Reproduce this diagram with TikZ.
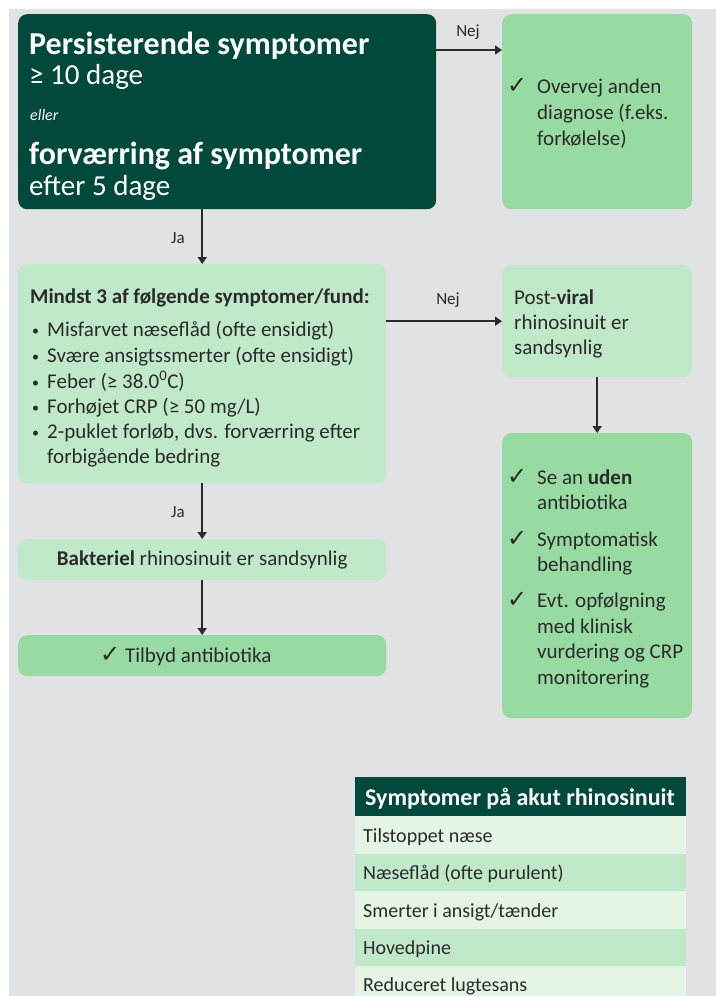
\documentclass[tikz,border=0pt]{standalone}
\usepackage{fontspec}
\setmainfont{Carlito}
\newfontfamily\symf{DejaVu Sans}
\usetikzlibrary{arrows.meta,calc}
\definecolor{bg}{HTML}{E1E2E4}
\definecolor{dk}{HTML}{01493B}
\definecolor{md}{HTML}{98DBA2}
\definecolor{lt}{HTML}{BFE9C8}
\definecolor{vl}{HTML}{E4F5E5}
\definecolor{ink}{HTML}{2B2B2B}
\newcommand{\ck}{{\symf\fontsize{24}{24}\selectfont ✓}}
\begin{document}
\begin{tikzpicture}[x=1pt,y=-1pt,
  box/.style={rounded corners=9pt, inner sep=0pt, anchor=north west, draw=none},
  cell/.style={inner sep=0pt, anchor=north west, draw=none, minimum width=331pt},
  txt/.style={anchor=base west, inner sep=0pt, text=ink},
  wtxt/.style={anchor=base west, inner sep=0pt, text=white},
  arr/.style={draw=ink, line width=1.7pt, -{Triangle[width=9pt,length=7pt]}},
  lab/.style={font=\fontsize{17}{19}\selectfont, text=ink, inner sep=0pt},
  big/.style={font=\fontsize{32}{36}\selectfont\bfseries},
  sub/.style={font=\fontsize{29}{32}\selectfont},
  body/.style={font=\fontsize{21}{25}\selectfont},
  bodyb/.style={font=\fontsize{21}{25}\selectfont\bfseries},
  tab/.style={font=\fontsize{20}{22}\selectfont}]
\useasboundingbox (0,0) rectangle (716,996);
\fill[white] (0,0) rectangle (716,996);
\fill[bg] (9,9) rectangle (716,996);

% boxes
\node[box, fill=dk, minimum width=418pt, minimum height=195pt] (q1) at (18,14) {};
\node[box, fill=md, minimum width=190pt, minimum height=195pt] (r1) at (502,14) {};
\node[box, fill=lt, minimum width=368pt, minimum height=219pt] (m1) at (18,264) {};
\node[box, fill=lt, minimum width=190pt, minimum height=112pt] (r2) at (502,265) {};
\node[box, fill=md, minimum width=190pt, minimum height=285pt] (r3) at (502,433) {};
\node[box, fill=lt, minimum width=368pt, minimum height=41pt] (m2) at (18,539) {};
\node[box, fill=md, minimum width=368pt, minimum height=41pt] (m3) at (18,635) {};

% dark box text
\node[wtxt, big] (q1a) at (29,54) {Persisterende symptomer};
\node[wtxt, sub] (q1b) at (29,84) {≥ 10 dage};
\node[wtxt, font=\fontsize{16}{18}\selectfont\itshape] (q1c) at (30,120) {eller};
\node[wtxt, big] (q1d) at (29,164) {forværring af symptomer};
\node[wtxt, sub] (q1e) at (29,195) {efter 5 dage};

% r1 text
\node[txt] (r1c) at (507,93) {\ck};
\node[txt, body] (r1a) at (537,93) {Overvej anden};
\node[txt, body] (r1b) at (537,119) {diagnose (f.eks.};
\node[txt, body] (r1d) at (537,145) {forkølelse)};

% m1 text
\node[txt, bodyb] (m1h) at (30,303) {Mindst 3 af følgende symptomer/fund:};
\foreach \yy/\tt [count=\i] in {336/{Misfarvet næseflåd (ofte ensidigt)},
  362/{Svære ansigtssmerter (ofte ensidigt)},
  388/{Feber (≥ 38.0\textsuperscript{0}C)},
  413/{Forhøjet CRP (≥ 50 mg/L)},
  438/{2-puklet forløb, dvs. forværring efter}}{
  \node[txt, font=\fontsize{14}{16}\selectfont] (mb\i) at (32,\yy-1) {•};
  \node[txt, body] (mt\i) at (47,\yy) {\tt};
}
\node[txt, body] (mt6) at (47,463) {forbigående bedring};

% r2 text
\node[txt, body] (r2a) at (514,304) {Post-\textbf{viral}};
\node[txt, body] (r2b) at (514,329) {rhinosinuit er};
\node[txt, body] (r2c) at (514,354) {sandsynlig};

% r3 text
\node[txt] (r3c1) at (507,484) {\ck};
\node[txt, body] (r3a) at (537,484) {Se an \textbf{uden}};
\node[txt, body] (r3b) at (537,509) {antibiotika};
\node[txt] (r3c2) at (507,546) {\ck};
\node[txt, body] (r3d) at (537,546) {Symptomatisk};
\node[txt, body] (r3e) at (537,571) {behandling};
\node[txt] (r3c3) at (507,607) {\ck};
\node[txt, body] (r3f) at (537,607) {Evt. opfølgning};
\node[txt, body] (r3g) at (537,633) {med klinisk};
\node[txt, body] (r3h) at (537,658) {vurdering og CRP};
\node[txt, body] (r3i) at (537,684) {monitorering};

% m2, m3 text
\node[body, text=ink, inner sep=0pt] (m2t) at (m2.center) {\textbf{Bakteriel} rhinosinuit er sandsynlig};
\node[body, text=ink, inner sep=0pt, anchor=west] (m3t) at (100,657) {\ck\ Tilbyd antibiotika};

% arrows
\draw[arr] ($(q1.north east)+(0,36)$) coordinate (n1s) -- ($(r1.north west)+(0,36)$) coordinate (n1e);
\node[lab] (l1) at (468,32) {Nej};
\draw[arr] (m1.north |- q1.south) coordinate (j1s) -- (m1.north);
\node[lab] (l2) at (178,238) {Ja};
\draw[arr] (m1.east |- r2.west) -- (r2.west);
\node[lab] (l3) at (448,300) {Nej};
\draw[arr] (r2.south) -- (r3.north);
\draw[arr] (m1.south) -- (m2.north);
\node[lab] (l4) at (178,512) {Ja};
\draw[arr] (m2.south) -- (m3.north);

% table
\node[cell, fill=dk, minimum height=39pt] (th) at (355,777) {};
\node[cell, fill=vl, minimum height=37.5pt] (t1) at (355,816) {};
\node[cell, fill=lt, minimum height=37.5pt] (t2) at (355,853.5) {};
\node[cell, fill=vl, minimum height=37.5pt] (t3) at (355,891) {};
\node[cell, fill=lt, minimum height=37.5pt] (t4) at (355,928.5) {};
\node[cell, fill=vl, minimum height=30pt] (t5) at (355,966) {};
\node[wtxt, font=\fontsize{24}{26}\selectfont\bfseries] (tht) at (365,805) {Symptomer på akut rhinosinuit};
\node[txt, tab] (t1t) at (363,842) {Tilstoppet næse};
\node[txt, tab] (t2t) at (363,879) {Næseflåd (ofte purulent)};
\node[txt, tab] (t3t) at (363,917) {Smerter i ansigt/tænder};
\node[txt, tab] (t4t) at (363,954) {Hovedpine};
\node[txt, tab] (t5t) at (363,991) {Reduceret lugtesans};
\end{tikzpicture}
\end{document}
